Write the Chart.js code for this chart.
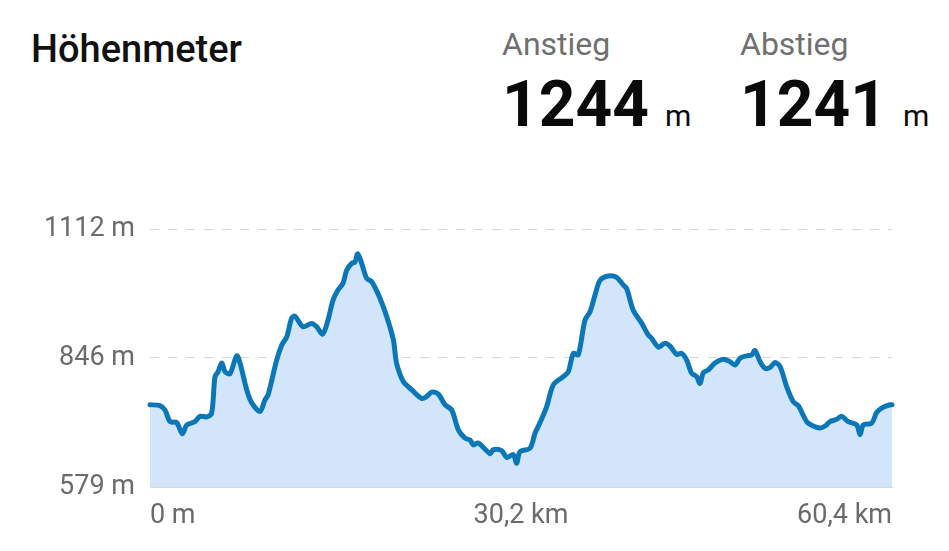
<!DOCTYPE html>
<html>
<head>
<meta charset="utf-8">
<script src="https://cdn.jsdelivr.net/npm/chart.js@4"></script>
<style>
  html, body { margin: 0; padding: 0; background: #fff; }
  body { width: 949px; height: 551px; position: relative; overflow: hidden; font-family: Roboto, sans-serif; }
  #chart { position: absolute; left: 0; top: 0; }
  .title { position: absolute; left: 31px; top: 30px; font-size: 38px; line-height: 38px; font-weight: 500; color: #111; }
  .label { position: absolute; font-size: 32px; line-height: 32px; color: #707070; }
  .stat { position: absolute; display: flex; align-items: baseline; color: #0a0a0a; }
  .stat .num { font-size: 64px; line-height: 64px; font-weight: 700; }
  .stat .unit { font-size: 30px; line-height: 30px; margin-left: 16px; }
</style>
</head>
<body>
<div class="title">Höhenmeter</div>
<div class="label" style="left:502px; top:28px">Anstieg</div>
<div class="stat" style="left:502px; top:73px"><span class="num">1244</span><span class="unit">m</span></div>
<div class="label" style="left:740px; top:28px">Abstieg</div>
<div class="stat" style="left:740px; top:73px"><span class="num">1241</span><span class="unit">m</span></div>
<canvas id="chart" width="949" height="551"></canvas>
<script>
// distance along the route (km) and elevation (m)
const distances = [
  0, 0.81, 1.22, 1.63, 2.17, 2.63, 2.99, 3.66, 4.07, 4.62,
  5.02, 5.29, 5.54, 5.84, 6.11, 6.51, 7.06, 7.33, 7.87, 8.28,
  8.95, 9.36, 9.61, 10.31, 10.72, 11.13, 11.53, 11.8, 12.45, 13.16,
  13.57, 14.06, 14.49, 14.9, 15.3, 15.71, 16.01, 16.42, 16.69, 16.91,
  17.23, 17.64, 18.05, 18.72, 19.27, 19.81, 20.07, 20.62, 21.3, 22.12,
  22.52, 22.93, 23.47, 24.01, 24.56, 25.1, 25.64, 26.05, 26.32, 26.72,
  27.68, 27.94, 28.63, 29.03, 29.57, 29.85, 30.12, 30.93, 31.34, 31.75,
  32.29, 32.83, 33.64, 34.05, 34.46, 34.86, 35.41, 35.82, 36.22, 36.63,
  37.31, 37.99, 38.53, 38.8, 39.34, 40.01, 40.54, 40.84, 41.38, 41.92,
  42.33, 42.87, 43.28, 43.69, 44.09, 44.5, 44.77, 45.04, 45.45, 45.99,
  46.67, 47.21, 47.62, 48.03, 48.57, 48.98, 49.25, 49.66, 50.07, 50.47,
  50.88, 51.29, 51.83, 52.37, 52.77, 53.46, 53.99, 54.54, 54.95, 55.35,
  55.9, 56.31, 56.84, 57.53, 57.8, 58.06, 58.75, 59.15, 59.69, 60.24,
  60.4
];
const elevations = [
  749, 747, 738, 714, 712, 689, 707, 714, 725, 724,
  732, 807, 817, 835, 817, 813, 850, 835, 780, 753,
  735, 759, 769, 841, 872, 889, 928, 932, 910, 917,
  910, 895, 924, 965, 986, 1000, 1027, 1041, 1044, 1061,
  1041, 1010, 1003, 969, 931, 883, 835, 797, 780, 762,
  766, 775, 771, 749, 738, 697, 680, 676, 666, 670,
  648, 656, 654, 640, 646, 628, 652, 659, 690, 712,
  745, 790, 807, 817, 855, 852, 924, 941, 975, 1006,
  1015, 1012, 996, 989, 944, 918, 894, 886, 868, 876,
  870, 853, 855, 841, 814, 807, 793, 815, 821, 835,
  843, 838, 831, 845, 850, 852, 861, 838, 824, 826,
  836, 828, 786, 755, 747, 714, 705, 701, 705, 714,
  719, 725, 714, 707, 687, 707, 711, 733, 744, 749,
  749
];
const xTicks = [0, 30.2, 60.4];
const xTickLabels = ["0 m", "30,2 km", "60,4 km"];
const yTicks = [579, 846, 1112];
const yTickLabels = ["579 m", "846 m", "1112 m"];

const points = distances.map((d, i) => ({ x: d, y: elevations[i] }));

const tickFont = { family: "Roboto", size: 27 };

new Chart(document.getElementById("chart"), {
  type: "line",
  data: {
    datasets: [
      {
        data: points,
        borderColor: "#0c77b7",
        backgroundColor: "#d2e5fb",
        borderWidth: 5,
        borderCapStyle: "round",
        borderJoinStyle: "round",
        fill: "start",
        pointRadius: 0,
        tension: 0.3,
        clip: 4,
      },
    ],
  },
  options: {
    responsive: false,
    animation: false,
    events: [],
    layout: { padding: { top: 229, right: 57, bottom: 0, left: 0 } },
    plugins: {
      legend: { display: false },
      tooltip: { enabled: false },
    },
    scales: {
      x: {
        type: "linear",
        min: 0,
        max: 60.4,
        afterBuildTicks: (scale) => {
          scale.ticks = xTicks.map((v) => ({ value: v }));
        },
        afterFit: (scale) => {
          scale.height = 64;
        },
        ticks: {
          align: "inner",
          padding: 13,
          color: "#6b6b6b",
          font: tickFont,
          maxRotation: 0,
          callback: (v, i) => xTickLabels[i],
        },
        grid: { display: false, drawTicks: false },
        border: { display: true, color: "#d8d8d8", width: 1, z: 1 },
      },
      y: {
        min: 579,
        max: 1112,
        afterBuildTicks: (scale) => {
          scale.ticks = yTicks.map((v) => ({ value: v }));
        },
        afterFit: (scale) => {
          scale.width = 150;
        },
        ticks: {
          padding: 15,
          color: "#6b6b6b",
          font: tickFont,
          callback: (v, i) => yTickLabels[i],
        },
        grid: { color: "#d6d6d6", lineWidth: 1, drawTicks: false },
        border: { display: false, dash: [9, 9] },
      },
    },
  },
});
</script>
</body>
</html>
